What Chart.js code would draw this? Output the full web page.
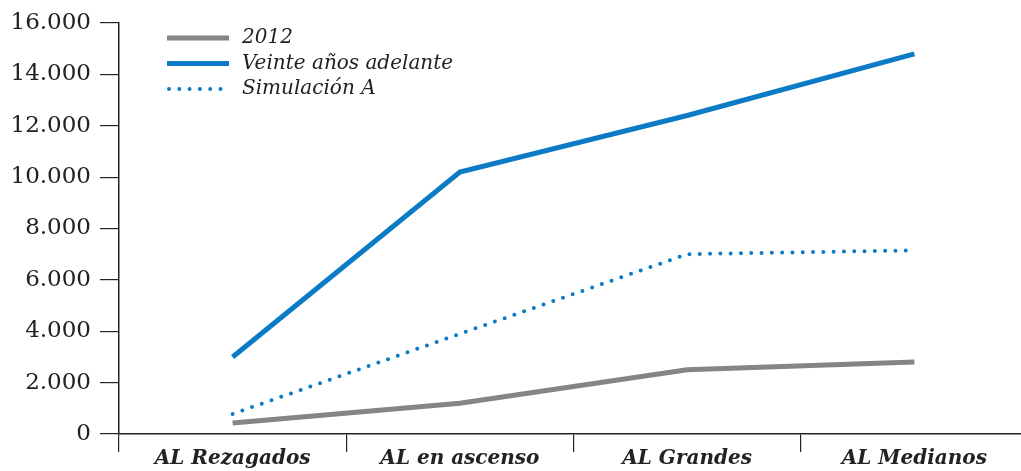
<!DOCTYPE html>
<html>
<head>
<meta charset="utf-8">
<script src="https://cdn.jsdelivr.net/npm/chart.js@4"></script>
<style>
  html, body { margin: 0; padding: 0; background: #fff; }
  #wrap { width: 1021px; height: 471px; overflow: hidden; }
</style>
</head>
<body>
<div id="wrap"><canvas id="chart" width="1028" height="471"></canvas></div>
<script>
const categories = ["AL Rezagados", "AL en ascenso", "AL Grandes", "AL Medianos"];
const values2012 = [430, 1200, 2500, 2800];
const valuesVeinte = [3000, 10200, 12400, 14800];
const valuesSimA = [780, 3900, 7000, 7150];
const yTicks = [0, 2000, 4000, 6000, 8000, 10000, 12000, 14000, 16000];

const GRAY = "#858587";
const BLUE = "#0a7bc4";
const serif = "'DejaVu Serif', serif";

function fmt(v) {
    return v === 0 ? "0" : v.toLocaleString("de-DE");
}

// legend drawn at top-left inside the plot
const legendPlugin = {
    id: "sideLegend",
    afterDraw(chart) {
        const c = chart.ctx;
        const x0 = 167, x1 = 229, tx = 242;
        chart.data.datasets.forEach((ds, i) => {
            const y = 38 + i * 25.5;
            c.save();
            c.strokeStyle = ds.borderColor;
            c.lineWidth = ds.borderWidth;
            c.lineCap = ds.borderCapStyle || "butt";
            c.setLineDash(ds.borderDash || []);
            c.beginPath();
            c.moveTo(x0 + (ds.borderDash ? 2 : 0), y);
            c.lineTo(x1, y);
            c.stroke();
            c.setLineDash([]);
            c.fillStyle = "#222";
            c.font = "italic 20px " + serif;
            c.textBaseline = "middle";
            c.fillText(ds.label, tx, y);
            c.restore();
        });
    }
};

new Chart(document.getElementById("chart"), {
    type: "line",
    data: {
        labels: categories,
        datasets: [
            { label: "2012", data: values2012, borderColor: GRAY, borderWidth: 5 },
            { label: "Veinte años adelante", data: valuesVeinte, borderColor: BLUE, borderWidth: 5 },
            { label: "Simulación A", data: valuesSimA, borderColor: BLUE, borderWidth: 4,
              borderDash: [0, 10.3], borderCapStyle: "round" }
        ]
    },
    options: {
        responsive: false,
        animation: false,
        layout: { padding: { top: 23, right: 0, left: 0, bottom: 0 } },
        elements: { point: { radius: 0 }, line: { tension: 0 } },
        plugins: { legend: { display: false }, tooltip: { enabled: false } },
        scales: {
            x: {
                offset: true,
                grid: { offset: true, drawOnChartArea: false, drawTicks: true, tickLength: 18, color: "#222", lineWidth: 1.2 },
                border: { display: true, color: "#222", width: 1.5 },
                ticks: { color: "#222", padding: -5, font: { family: serif, size: 20, style: "italic", weight: "bold" } },
                afterFit(scale) { scale.height = 37; }
            },
            y: {
                min: 0,
                max: 16000,
                afterBuildTicks(scale) { scale.ticks = yTicks.map(v => ({ value: v })); },
                grid: { drawOnChartArea: false, drawTicks: true, tickLength: 19, color: "#222", lineWidth: 1.2 },
                border: { display: true, color: "#222", width: 1.5 },
                ticks: { color: "#222", padding: 9, font: { family: serif, size: 23 }, callback: v => fmt(v) },
                afterFit(scale) { scale.width = 119; }
            }
        }
    },
    plugins: [legendPlugin]
});
</script>
</body>
</html>
